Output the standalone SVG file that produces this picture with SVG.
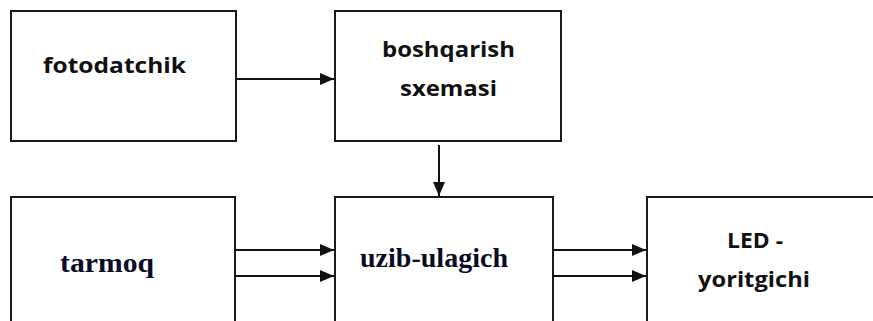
<svg xmlns="http://www.w3.org/2000/svg" width="873" height="321" viewBox="0 0 873 321">
<style>
.box{fill:#fff;stroke:#1a1a1a;stroke-width:2}
.sans{font-family:"Open Sans","DejaVu Sans",sans-serif;font-weight:bold;font-size:21px;fill:#111}
.serif{font-family:"Liberation Serif","Times New Roman",serif;font-weight:bold;font-size:27px;fill:#0b0b26}
.conn{stroke:#111;stroke-width:2;fill:none}
</style>
<defs>
<marker id="ah" viewBox="0 0 14 12" refX="14" refY="6" markerWidth="14" markerHeight="12" markerUnits="userSpaceOnUse" orient="auto">
<path d="M0,0 L14,6 L0,12 Z" fill="#111"/>
</marker>
</defs>
<rect width="873" height="321" fill="#fff"/>
<g id="fotodatchik">
<rect class="box" x="11" y="11" width="225" height="130"/>
<text class="sans" x="43" y="73" textLength="143" lengthAdjust="spacingAndGlyphs">fotodatchik</text>
</g>
<g id="boshqarish">
<rect class="box" x="335" y="11" width="226" height="130"/>
<text class="sans" x="382" y="57" textLength="133" lengthAdjust="spacingAndGlyphs">boshqarish</text>
<text class="sans" x="400" y="96" textLength="97" lengthAdjust="spacingAndGlyphs">sxemasi</text>
</g>
<g id="tarmoq">
<rect class="box" x="11" y="197" width="224" height="140"/>
<text class="serif" x="60" y="272" textLength="94" lengthAdjust="spacingAndGlyphs">tarmoq</text>
</g>
<g id="uzib-ulagich">
<rect class="box" x="335" y="197" width="218" height="140"/>
<text class="serif" x="360" y="267" textLength="148" lengthAdjust="spacingAndGlyphs">uzib-ulagich</text>
</g>
<g id="led">
<rect class="box" x="647" y="197" width="240" height="140"/>
<text class="sans" x="727" y="248" textLength="56" lengthAdjust="spacingAndGlyphs">LED -</text>
<text class="sans" x="698" y="287" textLength="112" lengthAdjust="spacingAndGlyphs">yoritgichi</text>
</g>
<g id="connectors">
<line class="conn" x1="236" y1="79" x2="334" y2="79" marker-end="url(#ah)"/>
<line class="conn" x1="439" y1="145" x2="439" y2="196" marker-end="url(#ah)"/>
<line class="conn" x1="235" y1="250" x2="334" y2="250" marker-end="url(#ah)"/>
<line class="conn" x1="235" y1="276" x2="334" y2="276" marker-end="url(#ah)"/>
<line class="conn" x1="553" y1="250" x2="646" y2="250" marker-end="url(#ah)"/>
<line class="conn" x1="553" y1="276" x2="646" y2="276" marker-end="url(#ah)"/>
</g>
</svg>
